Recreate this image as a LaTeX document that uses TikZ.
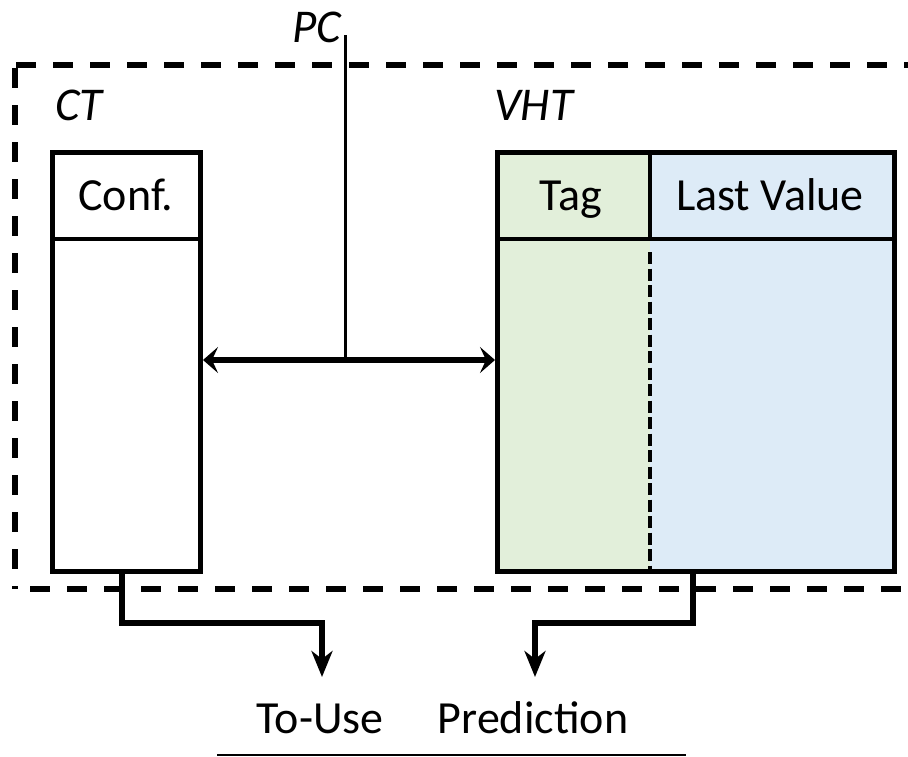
\documentclass[tikz,border=0pt]{standalone}
\usepackage{fontspec}
\setmainfont{Carlito}
\usetikzlibrary{arrows.meta}
\definecolor{taggreen}{RGB}{226,239,218}
\definecolor{valblue}{RGB}{221,235,247}
\tikzset{
  tbl/.style={draw=black, line width=5pt, inner sep=0pt, minimum height=419pt},
  lbl/.style={font=\fontsize{47}{52}\selectfont\itshape, anchor=base west, inner sep=0pt},
  txt/.style={font=\fontsize{46}{52}\selectfont, anchor=base, inner sep=0pt},
  frame/.style={line width=5.5pt, dash pattern=on 20pt off 17pt},
  conn/.style={line width=5.5pt},
}
\begin{document}
\begin{tikzpicture}[x=1pt,y=-1pt]
\useasboundingbox (0,0) rectangle (908,756);
% fills of VHT
\fill[taggreen] (495,150) rectangle (650,569);
\fill[valblue] (650,150) rectangle (892,569);
% outer dashed frame
\coordinate (ftl) at (16,65);
\coordinate (ftr) at (908,65);
\coordinate (fl1) at (15,68);
\coordinate (fl2) at (15,589);
\coordinate (fb1) at (30,589);
\coordinate (fb2) at (908,589);
\draw[frame] (ftl) -- (ftr);
\draw[frame] (fl1) -- (fl2);
\draw[frame] (fb1) -- (fb2);
% tables
\node[tbl, minimum width=148pt, anchor=north west] (ct) at (50,150) {};
\node[tbl, minimum width=397pt, anchor=north west] (vht) at (495,150) {};
\draw[line width=4.5pt] (ct.west |- 0,239) -- (ct.east |- 0,239);
\draw[line width=4.5pt] (vht.west |- 0,239) -- (vht.east |- 0,239);
\draw[line width=4.5pt] (650,150) -- (650,239);
\draw[line width=4.5pt, dash pattern=on 12pt off 4.5pt] (650,252) -- (650,569);
% labels
\node[lbl] (ctl) at (55,120) {CT};
\node[lbl] (vhtl) at (494,120) {VHT};
\node[lbl] (pcl) at (292,42) {PC};
\node[txt] (conf) at (126,210) {Conf.};
\node[txt] (tag) at (571,210) {Tag};
\node[txt] (lv) at (770,210) {Last Value};
\node[txt] (touse) at (320,733) {To-Use};
\node[txt] (pred) at (533,733) {Prediction};
% PC line and double arrow
\coordinate (pctop) at (345,35);
\coordinate (pcjoin) at (345,360);
\draw[line width=3pt] (pctop) -- (pcjoin);
\draw[line width=5.5pt, {Stealth[length=15pt,width=26pt,inset=6pt]}-{Stealth[length=15pt,width=26pt,inset=6pt]}] (ct.east |- pcjoin) -- (vht.west |- pcjoin);
% outputs
\coordinate (o1) at (122,569);
\coordinate (e1) at (322,677);
\coordinate (o2) at (693,569);
\coordinate (e2) at (535,677);
\draw[conn, -{Stealth[length=26pt,width=21pt,inset=8pt]}] (o1) -- (122,623) -| (e1);
\draw[conn, -{Stealth[length=26pt,width=21pt,inset=8pt]}] (o2) -- (693,623) -| (e2);
% bottom rule
\coordinate (r1) at (217,755);
\coordinate (r2) at (686,755);
\draw[line width=2.5pt] (r1) -- (r2);
\end{tikzpicture}
\end{document}
